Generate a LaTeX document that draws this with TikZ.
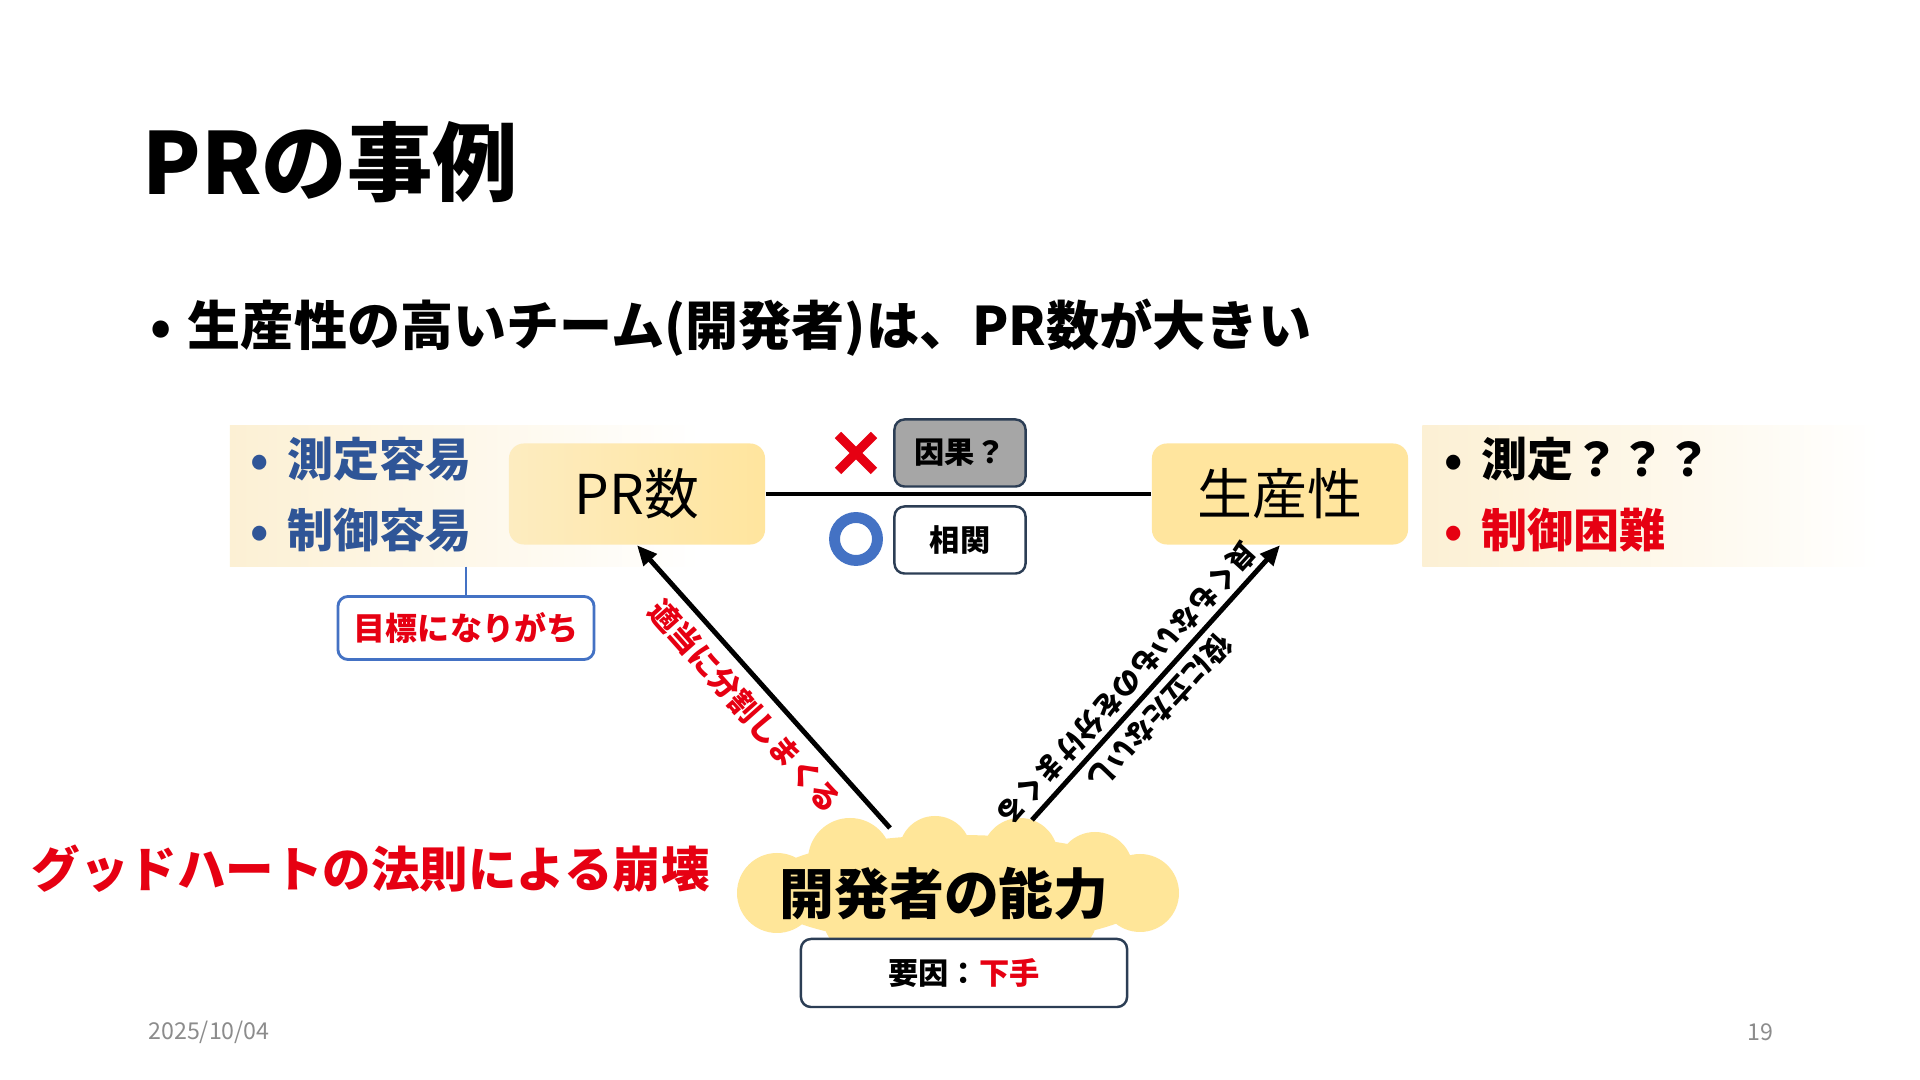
\documentclass[tikz,border=0pt]{standalone}
\usepackage{fontspec}
\setmainfont{Noto Sans CJK JP}
\usetikzlibrary{arrows.meta}

\definecolor{easyblue}{HTML}{2F5597}
\definecolor{alertred}{HTML}{E60012}
\definecolor{slateline}{HTML}{2C3E55}
\definecolor{causegray}{HTML}{A6A6A6}
\definecolor{ringblue}{HTML}{4472C4}
\definecolor{panelcream}{HTML}{FCF0D4}
\definecolor{keyyellow}{HTML}{FFE59E}
\definecolor{keypale}{HTML}{FDECC0}
\definecolor{cloudyellow}{HTML}{FFE699}
\definecolor{dategray}{HTML}{8C8C8C}

\newcommand{\jsize}[1]{\fontsize{#1}{#1}\selectfont}

\tikzset{
	panel/.style={inner sep=0, minimum height=1.4cm},
	keybox/.style={rounded corners=0.15cm, minimum width=2.56cm, minimum height=1.01cm, font=\jsize{15.6}},
	tagbox/.style={draw=slateline, line width=0.7pt, rounded corners=0.1cm, minimum width=1.31cm, minimum height=0.67cm, font=\bfseries\jsize{8.6}},
	leftlabel/.style={anchor=west, inner sep=0},
	arr/.style={-{Triangle[length=0.2cm, width=0.17cm]}, line width=1.4pt},
}

\begin{document}
\begin{tikzpicture}[x=0.01cm, y=-0.01cm]
	\useasboundingbox (0,0) rectangle (1920,1080);
	\fill[white] (0,0) rectangle (1920,1080); %背景

	\node[leftlabel, font=\bfseries\jsize{24.3}] (title) at (142,162) {PRの事例}; %タイトル
	\node[leftlabel, font=\bfseries\jsize{15.1}] (claim) at (150,328) {•\hspace{0.3em}生産性の高いチーム(開発者)は、PR数が大きい};

%	左右のパネル(右へ白くぼかす)
	\node[panel, left color=panelcream, right color=white, minimum width=4.7cm] (easypanel) at (465,496) {};
	\node[panel, left color=panelcream, right color=white, minimum width=4.57cm] (hardpanel) at (1651,496) {};
	\node[leftlabel, text=easyblue, font=\bfseries\jsize{13.1}] (measureeasy) at (250,459) {•\hspace{0.4em}測定容易};
	\node[leftlabel, text=easyblue, font=\bfseries\jsize{13.1}] (controleasy) at (250,530) {•\hspace{0.4em}制御容易};
	\node[leftlabel, font=\bfseries\jsize{13.1}] (measurehard) at (1444,459) {•\hspace{0.4em}測定？？？};
	\node[leftlabel, text=alertred, font=\bfseries\jsize{13.1}] (controlhard) at (1444,530) {•\hspace{0.4em}制御困難};

%	PR数と生産性
	\node[keybox, left color=keypale, right color=keyyellow] (prnum) at (637,494) {PR数};
	\node[keybox, fill=keyyellow] (prod) at (1280,494) {生産性};
	\draw[line width=1.4pt] (prnum) -- (prod); %相関の線

	\node[tagbox, fill=causegray] (cause) at (960,453) {因果？};
	\node[tagbox, fill=white] (corr) at (960,540) {相関};
	\draw[alertred, line width=2.6pt] (838,435) -- (874,471) (838,471) -- (874,435); %バツ
	\draw[ringblue, line width=3.1pt] (856,539) circle [radius=21.5]; %マル

%	目標になりがち
	\node[draw=ringblue, line width=0.8pt, fill=white, rounded corners=0.1cm, minimum width=2.56cm, minimum height=0.63cm, text=alertred, font=\bfseries\jsize{9.1}] (goal) at (466,628) {目標になりがち};
	\draw[ringblue, line width=0.8pt] (goal.north |- easypanel.south) -- (goal.north);

%	開発者の能力(雲は円を重ねて描く)
	\fill[cloudyellow] (958,890) ellipse [x radius=200, y radius=55]
		(777,893) circle [radius=40] (1140,893) circle [radius=39]
		(850,860) circle [radius=42] (935,852) circle [radius=36]
		(1020,856) circle [radius=38] (1095,870) circle [radius=38]
		(850,922) circle [radius=26] (1070,922) circle [radius=26];
	\node[font=\bfseries\jsize{15.6}] (devskill) at (944,894) {開発者の能力};
	\node[tagbox, fill=white, minimum width=3.26cm, minimum height=0.68cm] (factor) at (964,973) {要因：\textcolor{alertred}{下手}};

%	矢印とラベル
	\coordinate (leftfoot) at (890,828);
	\coordinate (rightfoot) at (1032,820);
	\draw[arr] (leftfoot) -- (prnum.south);
	\draw[arr] (rightfoot) -- (prod.south);
	\node[rotate=-48.3, text=alertred, font=\bfseries\jsize{8.6}] (splitlabel) at (745,706) {適当に分割しまくる};
	\node[rotate=-132.3, align=center, font=\bfseries\fontsize{8.1}{12.2}\selectfont] (uselesslabel) at (1143,698) {役に立たないし\\良くもないものを分けまくる};

	\node[leftlabel, text=alertred, font=\bfseries\jsize{13.8}] (goodhart) at (31,869) {グッドハートの法則による崩壊};

	\node[text=dategray, font=\jsize{6.6}] (date) at (209,1032) {2025/10/04}; %日付
	\node[text=dategray, font=\jsize{6.6}] (page) at (1760,1032) {19}; %ページ番号
\end{tikzpicture}
\end{document}
